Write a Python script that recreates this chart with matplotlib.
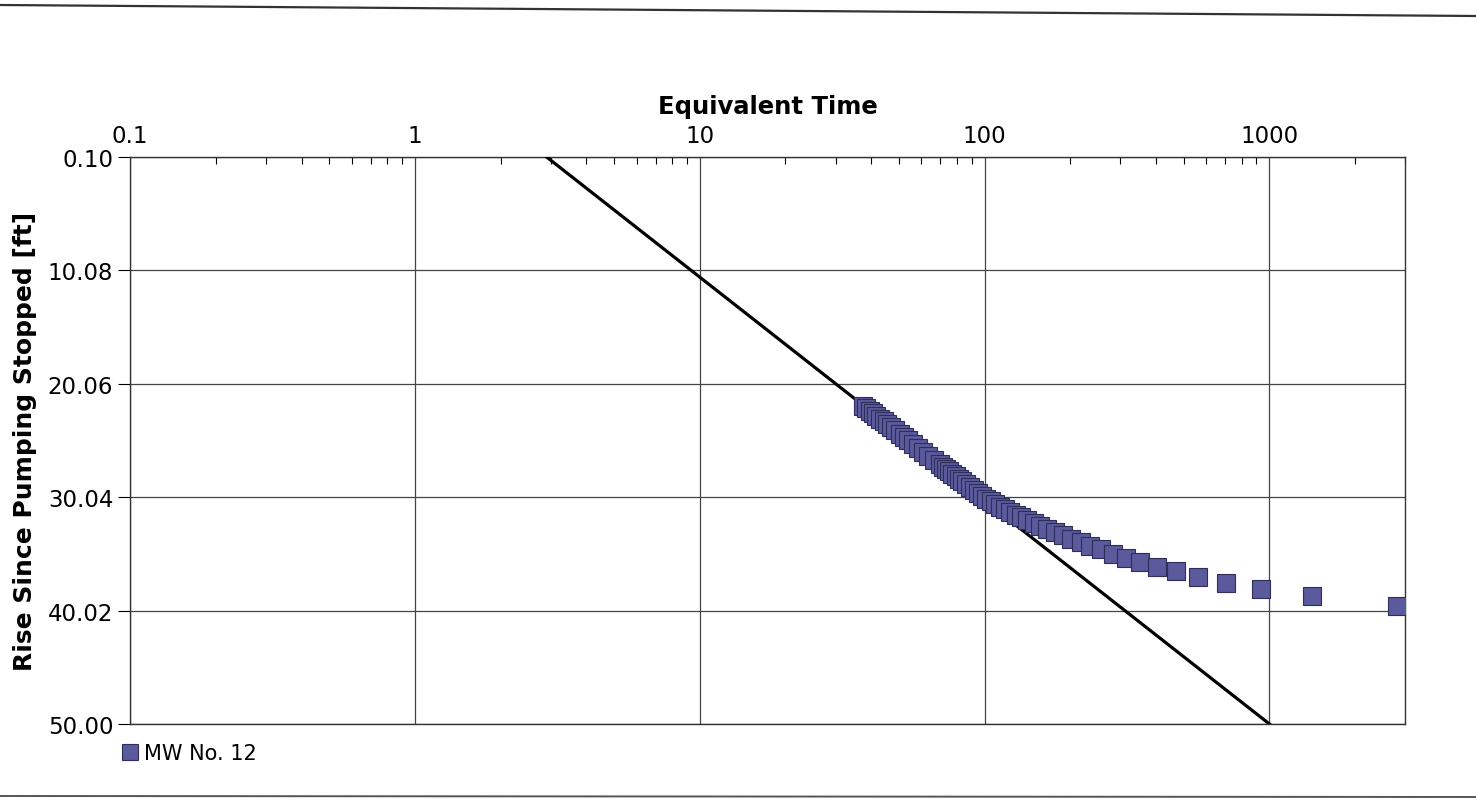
import matplotlib
matplotlib.use("Agg")
import matplotlib.pyplot as plt
from matplotlib.lines import Line2D
from matplotlib.ticker import FixedLocator, NullFormatter, LogLocator

plt.rcParams["font.family"] = ["DejaVu Sans"]

# recovery data (equivalent time vs rise)
equiv_time = [
    37.5, 38.5, 39.5, 40.6, 41.7, 42.9, 44.2, 45.6, 47.1, 48.6,
    50.3, 52.1, 54.0, 56.1, 58.3, 60.8, 63.4, 66.3, 69.5,
    71.3, 73.1, 74.9, 76.9, 79.1, 81.3, 83.6, 86.2, 88.8, 91.6,
    94.7, 97.9, 101.4, 105.1, 109.1, 113.4, 118.1, 123.2, 128.7,
    134.8, 141.5, 148.9, 157.1, 166.3, 176.6, 188.3, 201.7, 217.2,
    235.2, 256.5, 282.0, 313.2, 352.3, 402.4, 469.3, 563.0, 703.5,
    937.7, 1406.0, 2811.0,
]
rise = [
    22.00, 22.22, 22.43, 22.66, 22.89, 23.12, 23.37, 23.63, 23.90, 24.16,
    24.45, 24.74, 25.04, 25.36, 25.68, 26.03, 26.38, 26.75, 27.15,
    27.36, 27.56, 27.75, 27.96, 28.19, 28.41, 28.63, 28.88, 29.12, 29.37,
    29.63, 29.90, 30.18, 30.41, 30.66, 30.89, 31.12, 31.36, 31.59,
    31.82, 32.06, 32.31, 32.56, 32.82, 33.10, 33.39, 33.69, 34.01,
    34.35, 34.64, 35.06, 35.42, 35.76, 36.19, 36.54, 37.06, 37.57,
    38.08, 38.76, 39.61,
]

# straight-line fit drawn on the plot
fit_time = [2.9, 1000.0]
fit_rise = [0.10, 50.00]

x_ticks = [0.1, 1, 10, 100, 1000]
x_tick_labels = ["0.1", "1", "10", "100", "1000"]
y_ticks = [0.10, 10.08, 20.06, 30.04, 40.02, 50.00]
y_tick_labels = ["0.10", "10.08", "20.06", "30.04", "40.02", "50.00"]

fig = plt.figure(figsize=(14.76, 8.04), dpi=100)
ax = fig.add_axes([0.0881, 0.0983, 0.8640, 0.7052])

ax.plot(fit_time, fit_rise, color="black", linewidth=2.3, zorder=3)
ax.plot(equiv_time, rise, linestyle="none", marker="s", markersize=13,
        markerfacecolor="#5A5A9C", markeredgecolor="#2E2E5A",
        markeredgewidth=0.8, label="MW No. 12", zorder=4, clip_on=True)

ax.set_xscale("log")
ax.set_xlim(0.1, 3000)
ax.set_ylim(50.00, 0.10)

ax.xaxis.tick_top()
ax.xaxis.set_label_position("top")
ax.xaxis.set_major_locator(FixedLocator(x_ticks))
ax.set_xticklabels(x_tick_labels)
ax.xaxis.set_minor_locator(LogLocator(base=10, subs=range(2, 10)))
ax.xaxis.set_minor_formatter(NullFormatter())
ax.tick_params(axis="x", which="major", direction="in", length=0,
               labelsize=16.5, pad=7)
ax.tick_params(axis="x", which="minor", direction="in", length=5,
               width=0.8, top=True, bottom=False)

ax.set_yticks(y_ticks)
ax.set_yticklabels(y_tick_labels)
ax.tick_params(axis="y", which="major", direction="out", length=9,
               width=0.8, labelsize=16.5, pad=3)

ax.grid(True, which="major", color="#444444", linewidth=0.9)
for spine in ax.spines.values():
    spine.set_color("#333333")
    spine.set_linewidth(1.0)

ax.set_xlabel("Equivalent Time", fontsize=17.5, fontweight="bold", labelpad=8)
ax.set_ylabel("Rise Since Pumping Stopped [ft]", fontsize=18,
              fontweight="bold", labelpad=8)

ax.legend(loc="upper left", bbox_to_anchor=(-0.016, -0.012), frameon=False,
          fontsize=15, handletextpad=0.25, handlelength=0.8,
          borderaxespad=0.2, markerscale=0.85)

# page border lines from the scanned report
fig.add_artist(Line2D([0, 1], [1 - 6 / 804, 1 - 17 / 804],
                      transform=fig.transFigure, color="#333333", linewidth=1.6))
fig.add_artist(Line2D([0, 1], [1 - 797 / 804, 1 - 798 / 804],
                      transform=fig.transFigure, color="#555555", linewidth=1.4))

fig.savefig("out.png", dpi=100)
